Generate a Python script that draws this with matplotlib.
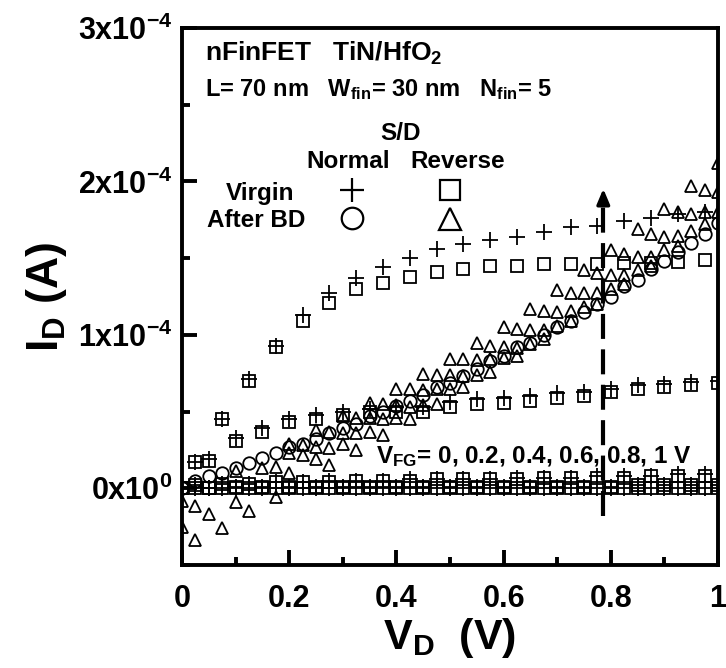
import matplotlib
matplotlib.use("Agg")
import matplotlib.pyplot as plt
import numpy as np

plt.rcParams['font.family'] = ['Liberation Sans', 'DejaVu Sans']
plt.rcParams['font.weight'] = 'bold'
plt.rcParams['axes.labelweight'] = 'bold'
plt.rcParams['axes.unicode_minus'] = False
plt.rcParams['mathtext.fontset'] = 'custom'
plt.rcParams['mathtext.rm'] = 'Liberation Sans:bold'
plt.rcParams['mathtext.bf'] = 'Liberation Sans:bold'
plt.rcParams['mathtext.it'] = 'Liberation Sans:bold'
plt.rcParams['mathtext.default'] = 'rm'

# ---- data (I_D in units of 1e-4 A) ----
# virgin, V_FG = 1 V and 0.6 / 0.2 V (odd grid)
x_odd = [0, 0.025, 0.075, 0.125, 0.175, 0.225, 0.275, 0.325, 0.375, 0.425, 0.475,
         0.525, 0.575, 0.625, 0.675, 0.725, 0.775, 0.825, 0.875, 0.925, 0.975]
vir_norm_1 = [0.0, 0.17, 0.45, 0.71, 0.93, 1.13, 1.27, 1.37, 1.44, 1.50, 1.56,
              1.59, 1.62, 1.64, 1.67, 1.70, 1.71, 1.74, 1.76, 1.79, 1.80]
vir_rev_1 = [0.0, 0.17, 0.45, 0.70, 0.92, 1.09, 1.21, 1.30, 1.34, 1.38, 1.41,
             1.43, 1.45, 1.45, 1.46, 1.465, 1.465, 1.47, 1.47, 1.475, 1.49]
vir_norm_06 = [0.0, 0.02, 0.03, 0.03, 0.04, 0.04, 0.05, 0.05, 0.05, 0.06, 0.06,
               0.06, 0.06, 0.07, 0.07, 0.07, 0.08, 0.08, 0.08, 0.09, 0.09]
vir_rev_06 = [0.0, 0.02, 0.03, 0.03, 0.04, 0.04, 0.04, 0.05, 0.05, 0.05, 0.06,
              0.06, 0.06, 0.06, 0.07, 0.07, 0.07, 0.07, 0.08, 0.08, 0.08]
vir_02 = [0.0] * 21

# virgin, V_FG = 0.8 V and 0.4 / 0 V (even grid)
x_even = [0, 0.05, 0.1, 0.15, 0.2, 0.25, 0.3, 0.35, 0.4, 0.45, 0.5,
          0.55, 0.6, 0.65, 0.7, 0.75, 0.8, 0.85, 0.9, 0.95, 1.0]
vir_norm_08 = [0.0, 0.19, 0.33, 0.39, 0.45, 0.48, 0.50, 0.52, 0.53, 0.53, 0.56,
               0.58, 0.59, 0.60, 0.62, 0.63, 0.65, 0.67, 0.68, 0.69, 0.70]
vir_rev_08 = [0.0, 0.18, 0.31, 0.37, 0.43, 0.45, 0.475, 0.495, 0.50, 0.50, 0.53,
              0.55, 0.555, 0.567, 0.59, 0.60, 0.625, 0.645, 0.66, 0.67, 0.685]
vir_04 = [0.0, 0.0, 0.01, 0.01, 0.01, 0.01, 0.01, 0.01, 0.01, 0.01, 0.01,
          0.01, 0.01, 0.01, 0.01, 0.01, 0.01, 0.02, 0.02, 0.02, 0.02]
vir_00 = [0.0] * 21

# after breakdown, normal S/D
x_bd = [0, 0.025, 0.05, 0.075, 0.1, 0.125, 0.15, 0.175, 0.2, 0.225, 0.25,
        0.275, 0.3, 0.325, 0.35, 0.375, 0.4, 0.425, 0.45, 0.475, 0.5,
        0.525, 0.55, 0.575, 0.6, 0.625, 0.65, 0.675, 0.7, 0.725, 0.75,
        0.775, 0.8, 0.825, 0.85, 0.875, 0.9, 0.925, 0.95, 0.975, 1.0]
bd_norm = [0.0, 0.05, 0.08, 0.10, 0.135, 0.165, 0.20, 0.23, 0.27, 0.29, 0.32,
           0.36, 0.39, 0.42, 0.47, 0.50, 0.535, 0.57, 0.61, 0.66, 0.685,
           0.73, 0.775, 0.83, 0.86, 0.92, 0.95, 1.00, 1.05, 1.09, 1.15,
           1.20, 1.25, 1.32, 1.36, 1.43, 1.48, 1.54, 1.60, 1.66, 1.73]

# after breakdown, reverse S/D (noisy, staircase-like)
tri_x = [0, 0.025, 0.05, 0.075, 0, 0.025, 0.1, 0.125, 0.175,
         0.1, 0.15, 0.175, 0.2,
         0.2, 0.225, 0.25, 0.275,
         0.2, 0.225, 0.25, 0.275, 0.3, 0.325,
         0.25, 0.275, 0.3, 0.325, 0.35, 0.375,
         0.3, 0.325, 0.35, 0.375, 0.4, 0.425,
         0.35, 0.375, 0.4, 0.425, 0.45, 0.475,
         0.4, 0.425, 0.45, 0.475, 0.5, 0.525,
         0.45, 0.475, 0.5, 0.525, 0.55, 0.575,
         0.5, 0.525, 0.55, 0.575, 0.6, 0.625,
         0.55, 0.575, 0.6, 0.625, 0.65, 0.675,
         0.6, 0.625, 0.65, 0.675, 0.7, 0.725,
         0.65, 0.675, 0.7, 0.725, 0.75, 0.775,
         0.7, 0.725, 0.75, 0.775, 0.8, 0.825,
         0.75, 0.775, 0.8, 0.825, 0.85, 0.875,
         0.8, 0.825, 0.85, 0.875, 0.9, 0.925,
         0.85, 0.875, 0.9, 0.925, 0.95, 0.975,
         0.9, 0.925, 0.95, 0.975, 1.0,
         0.95, 0.975, 1.0,
         1.0]
tri_y = [-0.085, -0.115, -0.17, -0.26, -0.25, -0.34, -0.09, -0.15, -0.06,
         0.11, 0.13, 0.14, 0.10,
         0.23, 0.22, 0.19, 0.155,
         0.29, 0.28, 0.27, 0.26, 0.29, 0.25,
         0.38, 0.37, 0.36, 0.36, 0.37, 0.35,
         0.47, 0.46, 0.455, 0.45, 0.46, 0.45,
         0.555, 0.55, 0.54, 0.53, 0.54, 0.55,
         0.65, 0.645, 0.64, 0.645, 0.65, 0.66,
         0.745, 0.74, 0.74, 0.73, 0.74, 0.755,
         0.845, 0.84, 0.835, 0.84, 0.85, 0.86,
         0.95, 0.93, 0.92, 0.915, 0.94, 0.97,
         1.05, 1.04, 1.03, 1.03, 1.06, 1.09,
         1.17, 1.155, 1.15, 1.155, 1.18, 1.20,
         1.29, 1.27, 1.27, 1.27, 1.30, 1.33,
         1.42, 1.40, 1.39, 1.39, 1.42, 1.45,
         1.55, 1.53, 1.51, 1.51, 1.55, 1.58,
         1.69, 1.66, 1.64, 1.645, 1.68, 1.72,
         1.82, 1.80, 1.79, 1.80, 1.80,
         1.97, 1.945, 1.93,
         2.12]

arrow_x = 0.786
arrow_y = [-0.18, 1.97]

yticks = [0, 1, 2, 3]
ytick_labels = ['0x10$^{0}$', '1x10$^{-4}$', '2x10$^{-4}$', '3x10$^{-4}$']
xticks = [0, 0.2, 0.4, 0.6, 0.8, 1.0]
xtick_labels = ['0', '0.2', '0.4', '0.6', '0.8', '1']

scale = 1e-4
def s(v):
    return np.array(v) * scale

fig = plt.figure(figsize=(7.26, 6.68), dpi=100)
ax = fig.add_axes([182 / 726, 1 - 565 / 668, 536 / 726, 537 / 668])

ms = 9
mew = 1.3
sq = dict(marker='s', ms=ms, mfc='none', mec='k', mew=mew, ls='none')
pl = dict(marker='+', ms=ms + 2, mec='k', mew=mew, ls='none')
ci = dict(marker='o', ms=ms, mfc='none', mec='k', mew=mew, ls='none')
tr = dict(marker='^', ms=ms, mfc='none', mec='k', mew=mew, ls='none')

# virgin curves
for xs, ys in [(x_even, vir_00), (x_odd, vir_02), (x_even, vir_04)]:
    ax.plot(xs, s(ys), **sq)
    ax.plot(xs, s(ys), **pl)
ax.plot(x_odd, s(vir_rev_06), **sq)
ax.plot(x_odd, s(vir_norm_06), **pl)
ax.plot(x_even, s(vir_rev_08), **sq)
ax.plot(x_even, s(vir_norm_08), **pl)
ax.plot(x_odd, s(vir_rev_1), **sq)
ax.plot(x_odd, s(vir_norm_1), **pl)

# after breakdown
ax.plot(x_bd, s(bd_norm), **ci)
ax.plot(tri_x, s(tri_y), **tr)

# dashed arrow
ax.plot([arrow_x, arrow_x], s([arrow_y[0], arrow_y[1] - 0.1]), color='k', lw=3,
        ls=(0, (6, 2.5)))
ax.annotate('', xy=(arrow_x, s(arrow_y[1])), xytext=(arrow_x, s(arrow_y[1] - 0.12)),
            arrowprops=dict(arrowstyle='-|>,head_length=0.9,head_width=0.38',
                            color='k', lw=2.5))

# legend block
ax.text(0.043, 0.9385, 'nFinFET   TiN/HfO$_2$', transform=ax.transAxes, fontsize=19,
        va='baseline')
ax.text(0.043, 0.874, 'L= 70 nm   W$_{fin}$= 30 nm   N$_{fin}$= 5',
        transform=ax.transAxes, fontsize=17, va='baseline')
ax.text(0.407, 0.791, 'S/D', transform=ax.transAxes, fontsize=17.5, ha='center',
        va='baseline')
ax.text(0.31, 0.740, 'Normal', transform=ax.transAxes, fontsize=17.5, ha='center',
        va='baseline')
ax.text(0.514, 0.740, 'Reverse', transform=ax.transAxes, fontsize=17.5, ha='center',
        va='baseline')
ax.text(0.1455, 0.680, 'Virgin', transform=ax.transAxes, fontsize=17.5, ha='center',
        va='baseline')
ax.text(0.138, 0.630, 'After BD', transform=ax.transAxes, fontsize=17.5, ha='center',
        va='baseline')
lg = dict(ls='none', mfc='none', mec='k', mew=1.6, transform=ax.transAxes,
          clip_on=False)
ax.plot([0.3166], [0.698], marker='+', ms=17, **lg)
ax.plot([0.5], [0.698], marker='s', ms=15, **lg)
ax.plot([0.3166], [0.6456], marker='o', ms=15.5, **lg)
ax.plot([0.5], [0.644], marker='^', ms=16, **lg)

ax.text(0.362, 0.19, 'V$_{FG}$= 0, 0.2, 0.4, 0.6, 0.8, 1 V', transform=ax.transAxes,
        fontsize=17.5, va='baseline')

ax.set_xlim(0, 1)
ax.set_ylim(-0.5e-4, 3e-4)
ax.set_xticks(xticks)
ax.set_xticklabels(xtick_labels)
ax.set_xticks(np.arange(0.1, 1.0, 0.2), minor=True)
ax.set_yticks(s(yticks))
ax.set_yticklabels(ytick_labels)
ax.set_yticks(s([-0.5, 0.5, 1.5, 2.5]), minor=True)
ax.tick_params(which='both', direction='in', width=2.8, labelsize=22)
ax.tick_params(which='major', length=11)
ax.tick_params(which='minor', length=6)
ax.tick_params(axis='x', pad=14)
ax.tick_params(axis='y', pad=7)
for sp in ax.spines.values():
    sp.set_linewidth(2.8)

ax.set_xlabel('V$_D$  (V)', fontsize=31, labelpad=1)
ax.set_ylabel('I$_D$ (A)', fontsize=32, labelpad=6)

fig.savefig('out.png', dpi=100)
